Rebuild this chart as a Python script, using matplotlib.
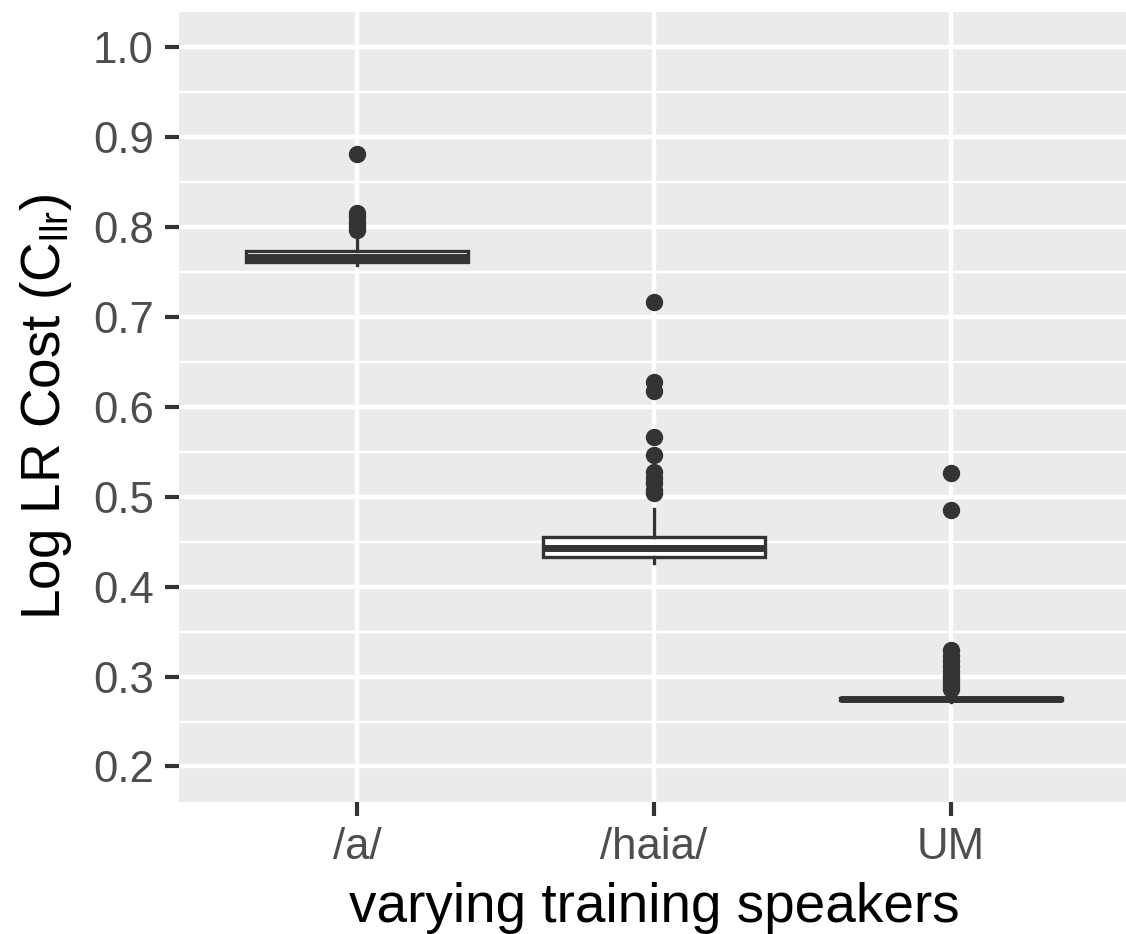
import matplotlib
matplotlib.use("Agg")
import matplotlib.pyplot as plt
from matplotlib.ticker import MultipleLocator

# categories and box statistics
groups = ["/a/", "/haia/", "UM"]
q1 = [0.7605, 0.4331, 0.2735]
medians = [0.7660, 0.4426, 0.2745]
q3 = [0.7735, 0.4554, 0.2757]
whisker_low = [0.7574, 0.4259, 0.2712]
whisker_high = [0.7850, 0.4860, 0.2800]
outliers = [
    [0.881, 0.815, 0.811, 0.806, 0.801, 0.797],
    [0.717, 0.627, 0.617, 0.566, 0.546, 0.528, 0.521, 0.515, 0.508, 0.504],
    [0.526, 0.485, 0.329, 0.323, 0.317, 0.312, 0.306, 0.301, 0.297, 0.293, 0.289, 0.286],
]

plt.rcParams['font.family'] = ['Liberation Sans', 'DejaVu Sans']
plt.rcParams['mathtext.fontset'] = 'custom'
plt.rcParams['mathtext.rm'] = 'Liberation Sans'
plt.rcParams['mathtext.it'] = 'Liberation Sans:italic'

dark = '#333333'

fig = plt.figure(figsize=(11.26, 9.34), dpi=100)
ax = fig.add_axes([179 / 1126, 132 / 934, 950 / 1126, 790 / 934])
ax.set_facecolor('#EBEBEB')

stats = []
for i, g in enumerate(groups):
    stats.append(dict(label=g, q1=q1[i], med=medians[i], q3=q3[i],
                      whislo=whisker_low[i], whishi=whisker_high[i],
                      fliers=outliers[i]))

ax.bxp(stats, positions=[1, 2, 3], widths=0.75, patch_artist=True,
       showcaps=False,
       boxprops=dict(facecolor='white', edgecolor=dark, linewidth=2.4),
       medianprops=dict(color=dark, linewidth=5, solid_capstyle='butt'),
       whiskerprops=dict(color=dark, linewidth=2.4),
       flierprops=dict(marker='o', markerfacecolor=dark, markeredgecolor=dark,
                       markersize=11.5, linestyle='none'),
       zorder=3)

ax.set_xlim(0.4, 3.6)
ax.set_ylim(0.1605, 1.039)
ax.yaxis.set_major_locator(MultipleLocator(0.1))
ax.yaxis.set_minor_locator(MultipleLocator(0.05))
ax.set_yticks([0.2, 0.3, 0.4, 0.5, 0.6, 0.7, 0.8, 0.9, 1.0])
ax.set_yticklabels(['0.2', '0.3', '0.4', '0.5', '0.6', '0.7', '0.8', '0.9', '1.0'])
ax.set_xticks([1, 2, 3])
ax.set_xticklabels(groups)

ax.grid(which='major', color='white', linewidth=3.2)
ax.grid(which='minor', axis='y', color='white', linewidth=1.7)
ax.set_axisbelow(True)
for s in ax.spines.values():
    s.set_visible(False)

ax.tick_params(which='major', length=10, width=3, color=dark, labelcolor='#4D4D4D',
               labelsize=31.5, pad=8)
ax.tick_params(which='minor', length=0)

ax.set_xlabel('varying training speakers', fontsize=39.5, color='black', labelpad=10)
ax.set_ylabel(r'Log LR Cost (C$_{\mathrm{llr}}$)', fontsize=39.5, color='black', labelpad=14)

fig.savefig('out.png', dpi=100)
